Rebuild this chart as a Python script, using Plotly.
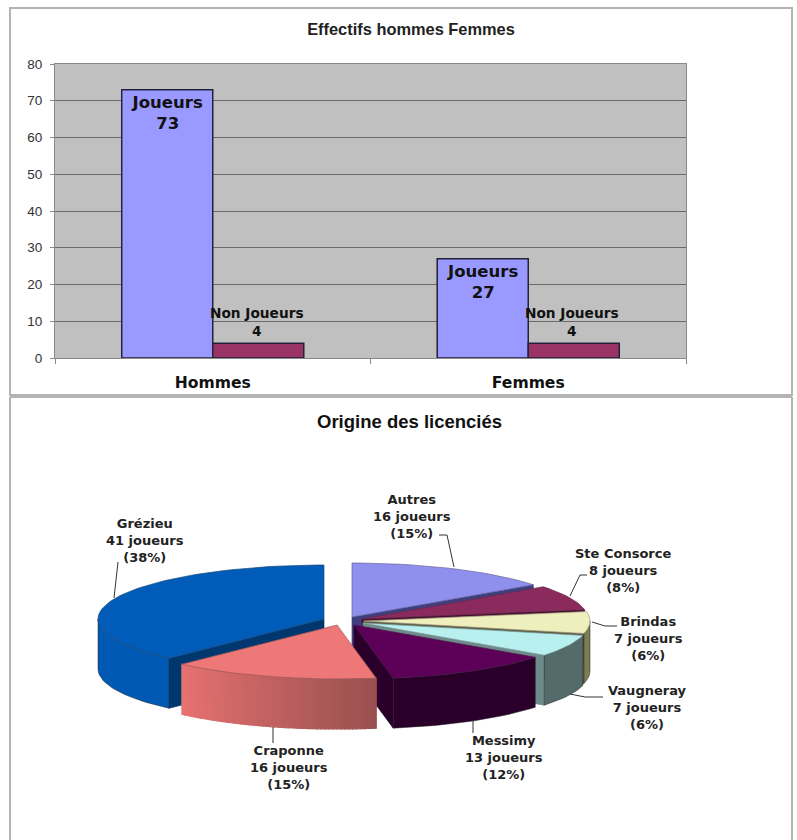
import math
import plotly.graph_objects as go

# ---- data ----
bar_categories = ["Hommes", "Femmes"]
joueurs = [73, 27]
non_joueurs = [4, 4]
bar_title = "Effectifs hommes Femmes"
pie_title = "Origine des licenciés"
pie_names = ["Autres", "Ste Consorce", "Brindas", "Vaugneray", "Messimy", "Craponne", "Grézieu"]
pie_values = [16, 8, 7, 7, 13, 16, 41]
pie_percents = [15, 8, 6, 6, 12, 15, 38]

# ---- pie geometry and styles (page pixels) ----
RX, RY, DEPTH = 226, 54, 50
apex = [(352, 617), (362, 619), (364, 621), (363, 623), (354, 625), (337, 625), (324, 619)]
top_col = ["#8f8fee", "#8b2a5c", "#efefbd", "#b8f0f0", "#5c0058", "#ee7777", "#005cb8"]
side_col = [("#5f5fa8", "#5f5fa8"), ("#5c1c3d", "#5c1c3d"), ("#7c7c55", "#7c7c55"),
            ("#546b6b", "#546b6b"), ("#2a002a", "#2a002a"), ("#e87272", "#98504f"),
            ("#0059b3", "#0059b3")]
face_col = ["#3f3f7f", "#4a0f30", "#5e5e45", "#6f8a8a", "#2a002a", "#98504f", "#00376f"]
label_pos = [(412, 516), (623, 570), (648, 638), (647, 707), (504, 757), (289, 767), (145, 540)]
leaders = [[(454, 567), (447, 535), (439, 535)], [(570, 596), (580, 575), (587, 575)],
           [(592, 622), (605, 626), (617, 626)], [(570, 694), (585, 697), (603, 697)],
           [(473, 720), (473, 733)], [(273, 727), (273, 743)], [(114, 598), (118, 562)]]
draw_order = [6, 0, 1, 2, 3, 4, 5]

W, H = 797, 840
PIE_TOP = 397
fig = go.Figure()

# ---- bars ----
fig.add_bar(x=bar_categories, y=joueurs, name="Joueurs",
            marker=dict(color="#9999ff", line=dict(color="#22223a", width=1.5)),
            text=[f"Joueurs<br>{v}" for v in joueurs], textposition="inside",
            insidetextanchor="end", textangle=0,
            textfont=dict(family="DejaVu Sans", size=16.5, color="#111", weight="bold"))
fig.add_bar(x=bar_categories, y=non_joueurs, name="Non Joueurs",
            marker=dict(color="#993366", line=dict(color="#22223a", width=1.5)))


def poly(xs, ys, fill, line=None, lw=0.7):
    fig.add_scatter(x=xs, y=ys, xaxis="x2", yaxis="y2", mode="lines", fill="toself",
                    fillcolor=fill, line=dict(color=line or fill, width=lw),
                    hoverinfo="skip", showlegend=False)


def pt(c, ang):
    r = math.radians(ang)
    return c[0] + RX * math.sin(r), c[1] - RY * math.cos(r)


def mix(a, b, t):
    ca = [int(a[i:i + 2], 16) for i in (1, 3, 5)]
    cb = [int(b[i:i + 2], 16) for i in (1, 3, 5)]
    return "#%02x%02x%02x" % tuple(round(p + (q - p) * t) for p, q in zip(ca, cb))


# ---- pie, built from the values ----
total = sum(pie_values)
angles = [0]
for v in pie_values:
    angles.append(angles[-1] + v / total * 360)

for i in draw_order:
    a0, a1, c = angles[i], angles[i + 1], apex[i]
    faces = []
    if math.sin(math.radians(a1)) > 0:
        faces.append(a1)
    if math.sin(math.radians(a0)) < 0:
        faces.append(a0)
    for a in faces:
        x, y = pt(c, a)
        poly([c[0], x, x, c[0], c[0]], [c[1], y, y + DEPTH, c[1] + DEPTH, c[1]], face_col[i])
    s0, s1 = max(a0, 90), min(a1, 270)
    if s1 > s0:
        left, right = side_col[i]
        if left == right:
            m = max(6, int((s1 - s0) / 2))
            arc = [pt(c, s0 + (s1 - s0) * k / m) for k in range(m + 1)]
            xs = [p[0] for p in arc] + [p[0] for p in reversed(arc)]
            ys = [p[1] for p in arc] + [p[1] + DEPTH for p in reversed(arc)]
            poly(xs + xs[:1], ys + ys[:1], left, line="#222222", lw=0.5)
        else:
            n = max(4, int(s1 - s0))
            # strips run from the right of the slice to its left as the angle grows
            for k in range(n):
                b0 = s0 + (s1 - s0) * k / n
                b1 = s0 + (s1 - s0) * (k + 1) / n
                p0, p1 = pt(c, b0), pt(c, b1)
                col = mix(left, right, 1 - (k + 0.5) / n)
                poly([p0[0], p1[0], p1[0], p0[0], p0[0]],
                     [p0[1], p1[1], p1[1] + DEPTH, p0[1] + DEPTH, p0[1]], col, lw=1.2)
    m = max(6, int((a1 - a0) / 2))
    arc = [pt(c, a0 + (a1 - a0) * k / m) for k in range(m + 1)]
    poly([c[0]] + [p[0] for p in arc] + [c[0]], [c[1]] + [p[1] for p in arc] + [c[1]],
         top_col[i], line=mix(top_col[i], "#333333", 0.45))

for path in leaders:
    fig.add_scatter(x=[p[0] for p in path], y=[p[1] for p in path], xaxis="x2", yaxis="y2",
                    mode="lines", line=dict(color="#333", width=1),
                    hoverinfo="skip", showlegend=False)

annotations = [dict(x=lx, y=ly, xref="x2", yref="y2", showarrow=False, align="center",
                    xanchor="center", yanchor="middle",
                    text=f"{n}<br>{v} joueurs<br>({p}%)",
                    font=dict(family="DejaVu Sans", size=13, color="#222", weight="bold"))
               for (lx, ly), n, v, p in zip(label_pos, pie_names, pie_values, pie_percents)]
annotations.append(dict(x=409, y=421, xref="x2", yref="y2", showarrow=False, text=pie_title,
                        xanchor="center", yanchor="middle",
                        font=dict(family="Liberation Sans", size=18.5, color="#111", weight="bold")))
annotations += [dict(x=cat, y=v, xref="x", yref="y", xshift=44, yshift=21, showarrow=False,
                     xanchor="center", yanchor="middle", align="center",
                     text=f"Non Joueurs<br>{v}",
                     font=dict(family="DejaVu Sans", size=13.7, color="#111", weight="bold"))
                for cat, v in zip(bar_categories, non_joueurs)]

border = dict(color="#b4b4b4", width=2)
top_y = lambda v: 1 - v / H
frame = dict(type="line", xref="paper", yref="paper", line=border, layer="above")
shapes = [dict(type="rect", xref="x domain", yref="y domain", x0=0, x1=1, y0=0, y1=1,
               fillcolor="#c0c0c0", line=dict(width=0), layer="below"),
          dict(type="rect", xref="paper", yref="paper", x0=10 / W, x1=792 / W,
               y0=top_y(395), y1=top_y(8), line=border, layer="above"),
          dict(frame, x0=10 / W, x1=792 / W, y0=top_y(397), y1=top_y(397)),
          dict(frame, x0=10 / W, x1=10 / W, y0=top_y(397), y1=0),
          dict(frame, x0=792 / W, x1=792 / W, y0=top_y(397), y1=0)]

fig.update_layout(
    width=W, height=H, autosize=False,
    margin=dict(l=0, r=0, t=0, b=0, autoexpand=False),
    paper_bgcolor="white", plot_bgcolor="rgba(0,0,0,0)",
    showlegend=False, barmode="group", bargap=0.423, bargroupgap=0,
    title=dict(text=bar_title, x=411 / W, xanchor="center", y=1 - 29 / H, yanchor="middle",
               automargin=False,
               font=dict(family="Liberation Sans", size=16.4, color="#222", weight="bold")),
    xaxis=dict(domain=[55 / W, 686 / W], anchor="y", type="category", tickson="boundaries",
               ticks="outside", ticklen=5, tickcolor="#888", showgrid=False,
               showline=True, linecolor="#888", linewidth=1, mirror=True,
               ticklabelstandoff=10,
               tickfont=dict(family="DejaVu Sans", size=15.6, color="#111", weight="bold")),
    yaxis=dict(domain=[(H - 358) / H, (H - 64) / H], anchor="x", range=[0, 80], dtick=10,
               ticks="outside", ticklen=4, tickcolor="#888", showgrid=True,
               gridcolor="#6a6a6a", gridwidth=1.4, zeroline=False,
               showline=True, linecolor="#888", linewidth=1, mirror=True,
               ticklabelstandoff=5,
               tickfont=dict(family="Liberation Sans", size=13.5, color="#333")),
    xaxis2=dict(domain=[0, 1], anchor="y2", range=[0, W], visible=False, fixedrange=True),
    yaxis2=dict(domain=[0, (H - PIE_TOP) / H], anchor="x2", range=[H, PIE_TOP], visible=False,
                fixedrange=True),
    annotations=annotations, shapes=shapes,
)

fig.write_html("out.html", config=dict(displayModeBar=False),
               post_script="document.documentElement.style.cssText='margin:0;padding:0;overflow:hidden';"
                           "document.body.style.cssText='margin:0;padding:0;overflow:hidden';"
                           "var d=document.querySelector('.plotly-graph-div');"
                           "d.style.position='fixed';d.style.top='0';d.style.left='0';")
